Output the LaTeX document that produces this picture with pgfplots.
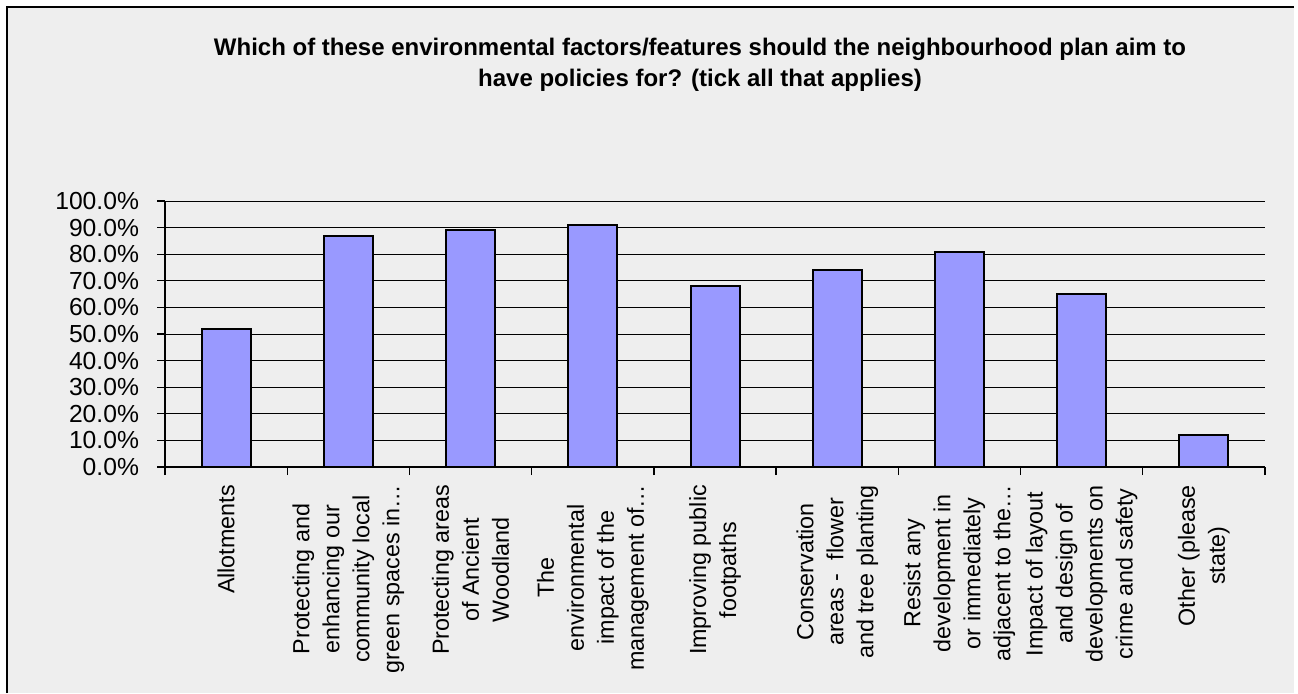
\documentclass[border=0pt]{standalone}
\usepackage{pgfplots}
\pgfplotsset{compat=1.18}
\usepackage{fontspec}
\setmainfont{Liberation Sans}
\definecolor{bg}{HTML}{EEEEEE}
\definecolor{barc}{HTML}{9999FF}
\begin{document}
\begin{tikzpicture}[x=0.75pt,y=0.75pt]
\fill[white] (0,0) rectangle (1298,693);
\fill[bg] (7,0) rectangle (1294,686);
\draw[black,line width=1.2pt] (7,0) -- (7,686) -- (1294,686);
\node[align=center,font=\bfseries\fontsize{18}{23}\selectfont] at (700,628) {Which of these environmental factors/features should the neighbourhood plan aim to\\have policies for? (tick all that applies)};
\begin{axis}[
  at={(123.75pt,169.5pt)}, anchor=south west,
  scale only axis, width=825pt, height=199.5pt,
  xmin=-0.5, xmax=8.5, ymin=0, ymax=100,
  ybar, bar width=36.75pt,
  axis lines=left,
  axis line style={black,line width=1.5pt,-},
  ymajorgrids, grid style={black,line width=0.75pt},
  ytick={0,10,...,100},
  yticklabels={0.0\%,10.0\%,20.0\%,30.0\%,40.0\%,50.0\%,60.0\%,70.0\%,80.0\%,90.0\%,100.0\%},
  yticklabel style={font=\fontsize{18.5}{18.5}\selectfont, xshift=-10pt},
  ytick style={black,line width=1pt},
  tick align=outside,
  major tick length=6pt,
  xtick={0,...,8},
  xtick style={draw=none},
  xticklabels={
    {Allotments},
    {Protecting and\\enhancing our\\community local\\green spaces in…},
    {Protecting areas\\of Ancient\\Woodland},
    {The\\environmental\\impact of the\\management of…},
    {Improving public\\footpaths},
    {Conservation\\areas - \ flower\\and tree planting},
    {Resist any\\development in\\or immediately\\adjacent to the…},
    {Impact of layout\\and design of\\developments on\\crime and safety},
    {Other (please\\state)}},
  xticklabel style={rotate=90, anchor=east, align=center, font=\fontsize{17.5}{22.5}\selectfont, xshift=-4pt},
  extra x ticks={-0.5,0.5,1.5,2.5,3.5,4.5,5.5,6.5,7.5,8.5},
  extra x tick labels={},
  extra x tick style={grid=none, xtick style={draw=black,line width=1pt}, major tick length=6pt},
  enlargelimits=false,
  clip=false,
]
\addplot[fill=barc, draw=black, line width=1.5pt] coordinates {
  (0,52) (1,87) (2,89) (3,91) (4,68) (5,74) (6,81) (7,65) (8,12)
};
\end{axis}
\end{tikzpicture}
\end{document}
